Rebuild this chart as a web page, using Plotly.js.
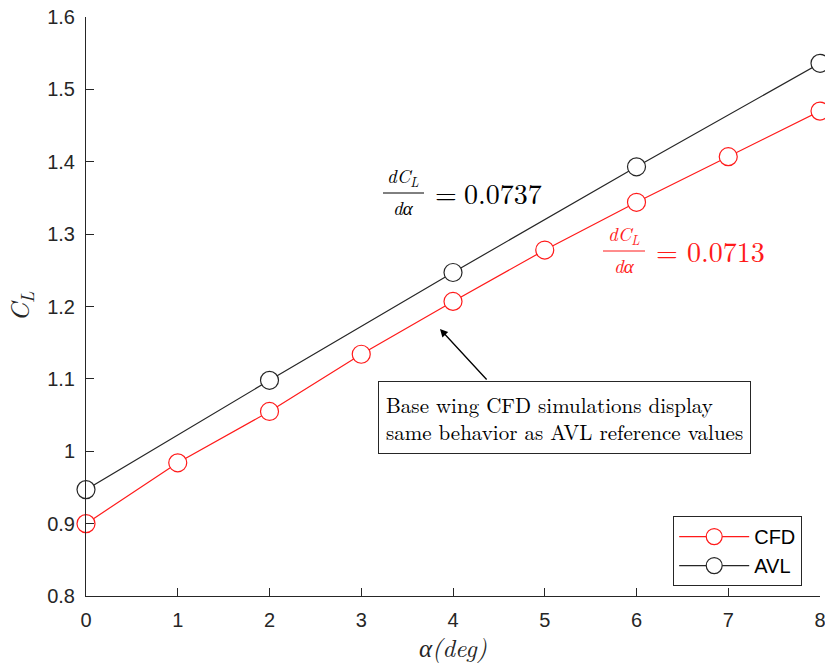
<!DOCTYPE html>
<html><head><meta charset="utf-8">
<script src="https://cdn.plot.ly/plotly-3.0.1.min.js"></script>
<style>body{margin:0;background:#fff}#chart{width:825px;height:664px}</style>
</head><body><div id="chart"></div>
<script>
const alphaCFD = [0, 1, 2, 3, 4, 5, 6, 7, 8];
const clCFD = [0.900, 0.984, 1.055, 1.134, 1.207, 1.278, 1.344, 1.407, 1.470];
const alphaAVL = [0, 2, 4, 6, 8];
const clAVL = [0.947, 1.098, 1.247, 1.393, 1.536];
const yTickVals = [0.8, 0.9, 1.0, 1.1, 1.2, 1.3, 1.4, 1.5, 1.6];
const yTickText = ['0.8', '0.9', '1', '1.1', '1.2', '1.3', '1.4', '1.5', '1.6'];
const xTickVals = [0, 1, 2, 3, 4, 5, 6, 7, 8];

const axisColor = '#262626';
const serif = 'Latin Modern Roman, CMU Serif, Liberation Serif, DejaVu Serif, serif';
const sans = 'Liberation Sans, Arial, Helvetica, sans-serif';

const traces = [
  {x: alphaCFD, y: clCFD, name: 'CFD', mode: 'lines+markers', cliponaxis: false,
   line: {color: '#ff1a1a', width: 1.2},
   marker: {symbol: 'circle', size: 18, color: '#ffffff', line: {color: '#ff1a1a', width: 1.2}}},
  {x: alphaAVL, y: clAVL, name: 'AVL', mode: 'lines+markers', cliponaxis: false,
   line: {color: '#262626', width: 1.2},
   marker: {symbol: 'circle', size: 18, color: '#ffffff', line: {color: '#262626', width: 1.2}}}
];

function px2x(p){ return (p - 86) / 91.75; }
function px2y(p){ return 0.8 + (596 - p) / 723.75; }

function slopeLabel(cx, barY, eqX, numX, value, color) {
  return [
    {x: px2x(cx), y: px2y(barY), yanchor: 'bottom', yshift: 0, text: '<i>dC<sub>L</sub></i>', showarrow: false, font: {family: serif, size: 19, color: color}},
    {x: px2x(cx), y: px2y(barY), yanchor: 'top', yshift: 1, text: '<i>dα</i>', showarrow: false, font: {family: serif, size: 19, color: color}},
    {x: px2x(eqX), y: px2y(barY - 1), xanchor: 'left', text: '=', showarrow: false, font: {family: serif, size: 28, color: color}},
    {x: px2x(numX), y: px2y(barY - 1), xanchor: 'left', text: value, showarrow: false, font: {family: serif, size: 28, color: color}}
  ];
}

const annotations = [].concat(
  slopeLabel(403, 193, 433, 462, '0.0737', '#000000'),
  slopeLabel(624, 251, 654, 685, '0.0713', '#ff1a1a'),
  [
  {x: px2x(440), y: px2y(329), ax: px2x(488), ay: px2y(381), axref: 'x', ayref: 'y',
   text: '', showarrow: true, arrowhead: 2, arrowsize: 1.2, arrowwidth: 1.3, arrowcolor: '#000'},
  {x: px2x(378), y: px2y(381), xanchor: 'left', yanchor: 'top', align: 'left',
   text: 'Base wing CFD simulations display<br>same behavior as AVL reference values',
   showarrow: false, bgcolor: '#ffffff', bordercolor: '#262626', borderwidth: 1, borderpad: 7,
   font: {family: serif, size: 21, color: '#000'}}
  ]
);

const shapes = [
  {type: 'line', xref: 'x', yref: 'y', x0: px2x(383), x1: px2x(424), y0: px2y(193), y1: px2y(193), line: {color: '#000', width: 1}},
  {type: 'line', xref: 'x', yref: 'y', x0: px2x(603), x1: px2x(645), y0: px2y(251), y1: px2y(251), line: {color: '#ff1a1a', width: 1}}
];

const layout = {
  width: 825, height: 664,
  margin: {l: 86, r: 5, t: 17, b: 68},
  paper_bgcolor: '#ffffff', plot_bgcolor: '#ffffff',
  showlegend: true,
  legend: {x: 0.80, y: 0.138, xanchor: 'left', yanchor: 'top', bgcolor: '#ffffff',
           bordercolor: axisColor, borderwidth: 1, font: {family: sans, size: 20, color: '#000'},
           tracegroupgap: 0, itemwidth: 70},
  xaxis: {range: [0, 8], tickvals: xTickVals, ticks: 'inside', ticklen: 8, tickcolor: axisColor,
          showline: true, linecolor: axisColor, linewidth: 1, showgrid: false, zeroline: false,
          ticklabeloverflow: 'allow', ticklabelstandoff: 6,
          tickfont: {family: sans, size: 20, color: axisColor},
          title: {text: '<i>α(deg)</i>', font: {family: serif, size: 25, color: axisColor}, standoff: 10}},
  yaxis: {range: [0.8, 1.6], tickvals: yTickVals, ticktext: yTickText, ticks: 'inside', ticklen: 8, tickcolor: axisColor,
          showline: true, linecolor: axisColor, linewidth: 1, showgrid: false, zeroline: false,
          ticklabelstandoff: 6,
          tickfont: {family: sans, size: 20, color: axisColor},
          title: {text: '<i>C<sub>L</sub></i>', font: {family: serif, size: 26, color: axisColor}, standoff: 14}},
  annotations: annotations,
  shapes: shapes
};

Plotly.newPlot('chart', traces, layout, {displayModeBar: false, staticPlot: true});
</script></body></html>
